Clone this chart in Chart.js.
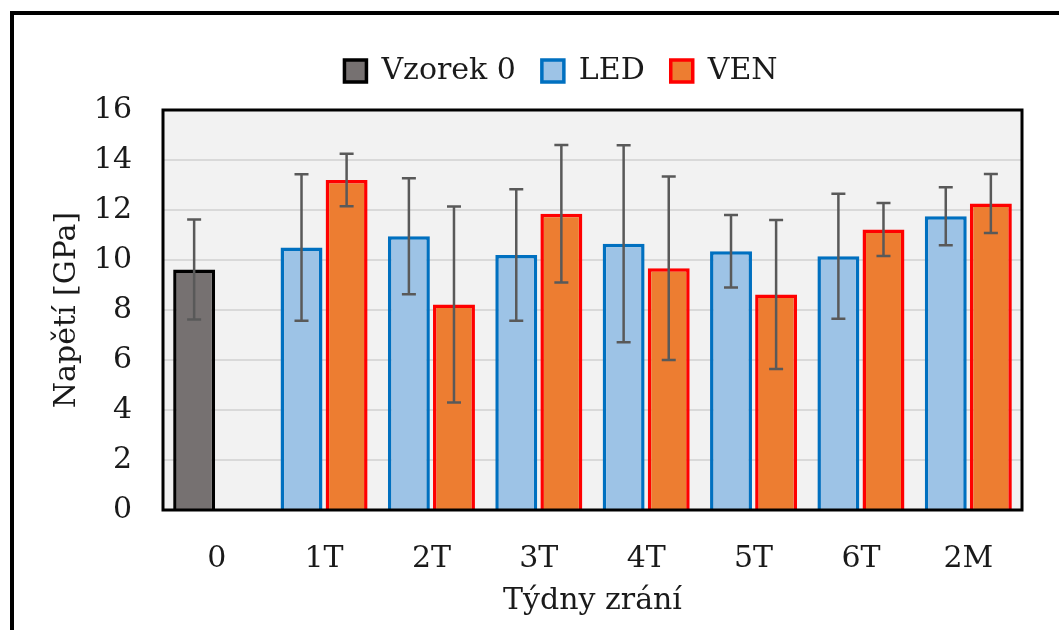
<!DOCTYPE html>
<html>
<head>
<meta charset="utf-8">
<script src="https://cdn.jsdelivr.net/npm/chart.js@4.4.1/dist/chart.umd.min.js"></script>
<style>
  html, body { margin: 0; padding: 0; background: #fff; overflow: hidden; }
  #wrap { position: absolute; left: 0; top: 0; width: 1059px; height: 630px; overflow: hidden; }
  #box { position: absolute; left: 0; top: 0; width: 1122px; height: 630px; }
  #frame { position: absolute; left: 10px; top: 11px; right: -10px; bottom: -10px;
           border-top: 4px solid #000; border-left: 4px solid #000; pointer-events: none; }
</style>
</head>
<body>
<div id="wrap">
  <div id="box"><canvas id="chart" width="1122" height="630"></canvas></div>
  <div id="frame"></div>
</div>
<script>
// data
const weeks = ["0", "1T", "2T", "3T", "4T", "5T", "6T", "2M"];
const vzorek = [9.62, null, null, null, null, null, null, null];
const vzorekErr = [2.0, null, null, null, null, null, null, null];
const led = [null, 10.5, 10.95, 10.2, 10.65, 10.35, 10.15, 11.75];
const ledErr = [null, 2.93, 2.32, 2.63, 3.94, 1.45, 2.5, 1.16];
const ven = [null, 13.2, 8.22, 11.85, 9.67, 8.62, 11.22, 12.26];
const venErr = [null, 1.05, 3.92, 2.75, 3.67, 2.98, 1.06, 1.18];

const FONT = "'DejaVu Serif', 'Liberation Serif', serif";
const TXT = "#1a1a1a";

/* ---------- plot background ---------- */
const plotBg = {
  id: "plotBg",
  beforeDraw(chart) {
    const { ctx, chartArea: a } = chart;
    ctx.save();
    ctx.fillStyle = "#f2f2f2";
    ctx.fillRect(a.left, a.top, a.right - a.left, a.bottom - a.top);
    ctx.restore();
  }
};

/* ---------- nudge legend (the original is centred off the plot) ---------- */
const legendShift = {
  id: "legendShift",
  afterLayout(chart) {
    const lg = chart.legend;
    if (!lg) return;
    lg.left += 50; lg.right += 50;
    lg.top -= 14; lg.bottom -= 14;
  }
};

/* ---------- error bars ---------- */
const errorBars = {
  id: "errorBars",
  afterDatasetsDraw(chart) {
    const ctx = chart.ctx;
    const y = chart.scales.y;
    ctx.save();
    ctx.strokeStyle = "#595959";
    ctx.lineWidth = 2.5;
    chart.data.datasets.forEach((ds, di) => {
      const meta = chart.getDatasetMeta(di);
      meta.data.forEach((bar, i) => {
        const v = ds.data[i], e = ds.errors[i];
        if (v == null || e == null) return;
        const top = y.getPixelForValue(v + e);
        const bot = y.getPixelForValue(v - e);
        const x = bar.x;
        ctx.beginPath();
        ctx.moveTo(x, top); ctx.lineTo(x, bot);
        ctx.moveTo(x - 7, top); ctx.lineTo(x + 7, top);
        ctx.moveTo(x - 7, bot); ctx.lineTo(x + 7, bot);
        ctx.stroke();
      });
    });
    ctx.restore();
  }
};

/* ---------- plot frame ---------- */
const plotBorder = {
  id: "plotBorder",
  afterDraw(chart) {
    const { ctx, chartArea: a } = chart;
    ctx.save();
    ctx.strokeStyle = "#000";
    ctx.lineWidth = 3;
    ctx.strokeRect(a.left, a.top, a.right - a.left, a.bottom - a.top);
    ctx.restore();
  }
};

new Chart(document.getElementById("chart"), {
  type: "bar",
  data: {
    labels: weeks,
    datasets: [
      { label: "Vzorek 0", data: vzorek, errors: vzorekErr, stack: "a",
        backgroundColor: "#767171", borderColor: "#000000", borderWidth: 3.5 },
      { label: "LED", data: led, errors: ledErr, stack: "a",
        backgroundColor: "#9dc3e6", borderColor: "#0070c0", borderWidth: 3.5 },
      { label: "VEN", data: ven, errors: venErr, stack: "b",
        backgroundColor: "#ed7d31", borderColor: "#ff0000", borderWidth: 3.5 }
    ]
  },
  options: {
    responsive: false,
    animation: false,
    categoryPercentage: 0.84,
    barPercentage: 0.93,
    layout: { padding: { top: 44, right: 100, left: 0, bottom: 0 } },
    plugins: {
      tooltip: { enabled: false },
      legend: {
        position: "top",
        labels: {
          font: { family: FONT, size: 30 },
          color: TXT,
          boxWidth: 22,
          boxHeight: 22,
          padding: 26
        }
      }
    },
    scales: {
      x: {
        stacked: true,
        grid: { display: false },
        border: { display: false },
        ticks: { font: { family: FONT, size: 30 }, color: TXT, padding: 23 },
        title: { display: true, text: "Týdny zrání", font: { family: FONT, size: 30 },
                 color: TXT, padding: { top: 0, bottom: 11 } },
        afterFit(scale) { scale.height = 120; }
      },
      y: {
        stacked: true,
        min: 0,
        max: 16,
        ticks: { stepSize: 2, font: { family: FONT, size: 30 }, color: TXT, padding: 31 },
        grid: { color: "#d9d9d9", lineWidth: 2, drawTicks: false },
        border: { display: false },
        title: { display: true, text: "Napětí [GPa]", font: { family: FONT, size: 30 },
                 color: TXT, padding: { top: 49, bottom: 0 } },
        afterFit(scale) { scale.width = 163; }
      }
    }
  },
  plugins: [plotBg, legendShift, errorBars, plotBorder]
});
</script>
</body>
</html>
